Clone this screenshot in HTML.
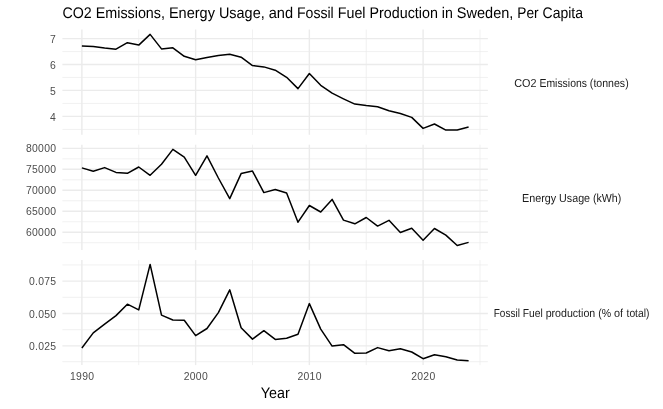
<!DOCTYPE html>
<html><head><meta charset="utf-8"><title>chart</title>
<style>
html,body{margin:0;padding:0;background:#fff;}
svg{display:block;will-change:transform;}
text{font-family:"Liberation Sans",sans-serif;font-kerning:normal;}
</style></head><body>
<svg width="663" height="409" viewBox="0 0 663 409">
<rect x="0" y="0" width="663" height="409" fill="#ffffff"/>
<g fill="none" stroke="#EBEBEB" stroke-linecap="butt">
<line x1="62.40" x2="487.90" y1="51.55" y2="51.55" stroke-width="0.71"/>
<line x1="62.40" x2="487.90" y1="77.45" y2="77.45" stroke-width="0.71"/>
<line x1="62.40" x2="487.90" y1="103.40" y2="103.40" stroke-width="0.71"/>
<line x1="62.40" x2="487.90" y1="129.40" y2="129.40" stroke-width="0.71"/>
<line x1="138.75" x2="138.75" y1="29.50" y2="134.80" stroke-width="0.71"/>
<line x1="252.49" x2="252.49" y1="29.50" y2="134.80" stroke-width="0.71"/>
<line x1="366.23" x2="366.23" y1="29.50" y2="134.80" stroke-width="0.71"/>
<line x1="479.97" x2="479.97" y1="29.50" y2="134.80" stroke-width="0.71"/>
<line x1="62.40" x2="487.90" y1="38.60" y2="38.60" stroke-width="1.42"/>
<line x1="62.40" x2="487.90" y1="64.50" y2="64.50" stroke-width="1.42"/>
<line x1="62.40" x2="487.90" y1="90.40" y2="90.40" stroke-width="1.42"/>
<line x1="62.40" x2="487.90" y1="116.40" y2="116.40" stroke-width="1.42"/>
<line x1="81.88" x2="81.88" y1="29.50" y2="134.80" stroke-width="1.42"/>
<line x1="195.62" x2="195.62" y1="29.50" y2="134.80" stroke-width="1.42"/>
<line x1="309.36" x2="309.36" y1="29.50" y2="134.80" stroke-width="1.42"/>
<line x1="423.10" x2="423.10" y1="29.50" y2="134.80" stroke-width="1.42"/>
</g>
<g fill="none" stroke="#EBEBEB" stroke-linecap="butt">
<line x1="62.40" x2="487.90" y1="158.83" y2="158.83" stroke-width="0.71"/>
<line x1="62.40" x2="487.90" y1="179.80" y2="179.80" stroke-width="0.71"/>
<line x1="62.40" x2="487.90" y1="200.77" y2="200.77" stroke-width="0.71"/>
<line x1="62.40" x2="487.90" y1="221.74" y2="221.74" stroke-width="0.71"/>
<line x1="62.40" x2="487.90" y1="242.71" y2="242.71" stroke-width="0.71"/>
<line x1="138.75" x2="138.75" y1="144.70" y2="249.90" stroke-width="0.71"/>
<line x1="252.49" x2="252.49" y1="144.70" y2="249.90" stroke-width="0.71"/>
<line x1="366.23" x2="366.23" y1="144.70" y2="249.90" stroke-width="0.71"/>
<line x1="479.97" x2="479.97" y1="144.70" y2="249.90" stroke-width="0.71"/>
<line x1="62.40" x2="487.90" y1="148.35" y2="148.35" stroke-width="1.42"/>
<line x1="62.40" x2="487.90" y1="169.32" y2="169.32" stroke-width="1.42"/>
<line x1="62.40" x2="487.90" y1="190.29" y2="190.29" stroke-width="1.42"/>
<line x1="62.40" x2="487.90" y1="211.26" y2="211.26" stroke-width="1.42"/>
<line x1="62.40" x2="487.90" y1="232.23" y2="232.23" stroke-width="1.42"/>
<line x1="81.88" x2="81.88" y1="144.70" y2="249.90" stroke-width="1.42"/>
<line x1="195.62" x2="195.62" y1="144.70" y2="249.90" stroke-width="1.42"/>
<line x1="309.36" x2="309.36" y1="144.70" y2="249.90" stroke-width="1.42"/>
<line x1="423.10" x2="423.10" y1="144.70" y2="249.90" stroke-width="1.42"/>
</g>
<g fill="none" stroke="#EBEBEB" stroke-linecap="butt">
<line x1="62.40" x2="487.90" y1="264.90" y2="264.90" stroke-width="0.71"/>
<line x1="62.40" x2="487.90" y1="297.30" y2="297.30" stroke-width="0.71"/>
<line x1="62.40" x2="487.90" y1="329.70" y2="329.70" stroke-width="0.71"/>
<line x1="62.40" x2="487.90" y1="361.65" y2="361.65" stroke-width="0.71"/>
<line x1="138.75" x2="138.75" y1="260.10" y2="365.10" stroke-width="0.71"/>
<line x1="252.49" x2="252.49" y1="260.10" y2="365.10" stroke-width="0.71"/>
<line x1="366.23" x2="366.23" y1="260.10" y2="365.10" stroke-width="0.71"/>
<line x1="479.97" x2="479.97" y1="260.10" y2="365.10" stroke-width="0.71"/>
<line x1="62.40" x2="487.90" y1="281.10" y2="281.10" stroke-width="1.42"/>
<line x1="62.40" x2="487.90" y1="313.50" y2="313.50" stroke-width="1.42"/>
<line x1="62.40" x2="487.90" y1="345.90" y2="345.90" stroke-width="1.42"/>
<line x1="81.88" x2="81.88" y1="260.10" y2="365.10" stroke-width="1.42"/>
<line x1="195.62" x2="195.62" y1="260.10" y2="365.10" stroke-width="1.42"/>
<line x1="309.36" x2="309.36" y1="260.10" y2="365.10" stroke-width="1.42"/>
<line x1="423.10" x2="423.10" y1="260.10" y2="365.10" stroke-width="1.42"/>
</g>
<polyline points="81.88,46.00 93.25,46.50 104.63,48.00 116.00,49.20 127.38,42.70 138.75,45.10 150.12,34.40 161.50,48.90 172.87,47.80 184.25,56.30 195.62,59.70 206.99,57.40 218.37,55.40 229.74,54.20 241.12,57.20 252.49,65.60 263.86,66.90 275.24,70.20 286.61,77.30 297.99,88.60 309.36,73.50 320.73,85.30 332.11,93.20 343.48,98.80 354.86,104.10 366.23,105.60 377.60,106.80 388.98,110.70 400.35,113.50 411.73,117.40 423.10,128.40 434.47,124.00 445.85,130.10 457.22,129.90 468.60,127.00" fill="none" stroke="#000000" stroke-width="1.50" stroke-linejoin="round" stroke-linecap="butt"/>
<polyline points="81.88,167.90 93.25,171.20 104.63,167.60 116.00,172.40 127.38,173.30 138.75,167.00 150.12,175.30 161.50,164.20 172.87,149.40 184.25,157.10 195.62,175.30 206.99,155.80 218.37,178.00 229.74,198.60 241.12,173.60 252.49,171.10 263.86,192.60 275.24,189.50 286.61,193.00 297.99,222.20 309.36,205.50 320.73,212.00 332.11,199.40 343.48,220.10 354.86,223.80 366.23,217.50 377.60,226.10 388.98,220.30 400.35,232.50 411.73,228.30 423.10,240.30 434.47,228.50 445.85,235.10 457.22,245.50 468.60,242.40" fill="none" stroke="#000000" stroke-width="1.50" stroke-linejoin="round" stroke-linecap="butt"/>
<polyline points="81.88,348.00 93.25,332.90 104.63,324.20 116.00,315.60 127.38,304.20 138.75,309.90 150.12,264.40 161.50,315.10 172.87,320.00 184.25,320.30 195.62,335.60 206.99,328.50 218.37,312.60 229.74,289.80 241.12,327.70 252.49,339.10 263.86,330.70 275.24,339.40 286.61,338.20 297.99,334.20 309.36,303.60 320.73,329.10 332.11,346.10 343.48,344.70 354.86,353.30 366.23,353.00 377.60,347.60 388.98,350.80 400.35,348.80 411.73,352.00 423.10,358.70 434.47,354.70 445.85,356.70 457.22,360.00 468.60,360.70" fill="none" stroke="#000000" stroke-width="1.50" stroke-linejoin="round" stroke-linecap="butt"/>
<g font-size="10.4" fill="#4D4D4D">
<text x="50.00" y="43" textLength="6" lengthAdjust="spacing">7</text>
<text x="50.00" y="69" textLength="6" lengthAdjust="spacing">6</text>
<text x="50.00" y="95" textLength="6" lengthAdjust="spacing">5</text>
<text x="50.00" y="121" textLength="6" lengthAdjust="spacing">4</text>
<text x="26.00" y="152" textLength="30" lengthAdjust="spacing">80000</text>
<text x="26.00" y="173" textLength="30" lengthAdjust="spacing">75000</text>
<text x="26.00" y="194" textLength="30" lengthAdjust="spacing">70000</text>
<text x="26.00" y="215" textLength="30" lengthAdjust="spacing">65000</text>
<text x="26.00" y="236" textLength="30" lengthAdjust="spacing">60000</text>
<text x="29.00" y="285" textLength="27" lengthAdjust="spacing">0.075</text>
<text x="29.00" y="318" textLength="27" lengthAdjust="spacing">0.050</text>
<text x="29.00" y="350" textLength="27" lengthAdjust="spacing">0.025</text>
<text x="69.98" y="380" textLength="24" lengthAdjust="spacing">1990</text>
<text x="183.72" y="380" textLength="24" lengthAdjust="spacing">2000</text>
<text x="297.46" y="380" textLength="24" lengthAdjust="spacing">2010</text>
<text x="411.20" y="380" textLength="24" lengthAdjust="spacing">2020</text>
</g>
<text y="87" font-size="11.6" fill="#1A1A1A" style="text-rendering:geometricPrecision">
<tspan x="514.17" textLength="22.24" lengthAdjust="spacingAndGlyphs">CO2</tspan>
<tspan x="539.45" textLength="47.52" lengthAdjust="spacingAndGlyphs">Emissions</tspan>
<tspan x="589.86" textLength="38.79" lengthAdjust="spacingAndGlyphs">(tonnes)</tspan>
</text>
<text y="202" font-size="11.6" fill="#1A1A1A" style="text-rendering:geometricPrecision">
<tspan x="522.05" textLength="34.16" lengthAdjust="spacingAndGlyphs">Energy</tspan>
<tspan x="559.10" textLength="30.97" lengthAdjust="spacingAndGlyphs">Usage</tspan>
<tspan x="592.96" textLength="28.29" lengthAdjust="spacingAndGlyphs">(kWh)</tspan>
</text>
<text y="317" font-size="11.6" fill="#1A1A1A" style="text-rendering:geometricPrecision">
<tspan x="493.75" textLength="26.11" lengthAdjust="spacingAndGlyphs">Fossil</tspan>
<tspan x="522.75" textLength="19.99" lengthAdjust="spacingAndGlyphs">Fuel</tspan>
<tspan x="545.63" textLength="49.64" lengthAdjust="spacingAndGlyphs">production</tspan>
<tspan x="598.16" textLength="12.92" lengthAdjust="spacingAndGlyphs">(%</tspan>
<tspan x="613.96" textLength="9.02" lengthAdjust="spacingAndGlyphs">of</tspan>
<tspan x="626.54" textLength="22.90" lengthAdjust="spacingAndGlyphs">total)</tspan>
</text>
<text x="260.85" y="398" font-size="15.3" fill="#000" style="text-rendering:geometricPrecision" textLength="28.89" lengthAdjust="spacingAndGlyphs">Year</text>
<text y="18" font-size="15.4" fill="#000" style="text-rendering:geometricPrecision">
<tspan x="62.47" textLength="29.28" lengthAdjust="spacingAndGlyphs">CO2</tspan>
<tspan x="95.73" textLength="69.23" lengthAdjust="spacingAndGlyphs">Emissions,</tspan>
<tspan x="168.93" textLength="46.00" lengthAdjust="spacingAndGlyphs">Energy</tspan>
<tspan x="218.90" textLength="45.82" lengthAdjust="spacingAndGlyphs">Usage,</tspan>
<tspan x="268.69" textLength="24.36" lengthAdjust="spacingAndGlyphs">and</tspan>
<tspan x="297.03" textLength="36.73" lengthAdjust="spacingAndGlyphs">Fossil</tspan>
<tspan x="337.73" textLength="27.83" lengthAdjust="spacingAndGlyphs">Fuel</tspan>
<tspan x="369.53" textLength="68.34" lengthAdjust="spacingAndGlyphs">Production</tspan>
<tspan x="441.84" textLength="11.03" lengthAdjust="spacingAndGlyphs">in</tspan>
<tspan x="456.85" textLength="56.50" lengthAdjust="spacingAndGlyphs">Sweden,</tspan>
<tspan x="517.33" textLength="21.36" lengthAdjust="spacingAndGlyphs">Per</tspan>
<tspan x="542.57" textLength="40.43" lengthAdjust="spacingAndGlyphs">Capita</tspan>
</text>
</svg></body></html>
